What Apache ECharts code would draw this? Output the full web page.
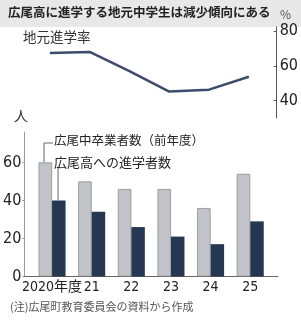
<!DOCTYPE html>
<html><head><meta charset="utf-8">
<script src="https://cdn.jsdelivr.net/npm/echarts@6/dist/echarts.min.js"></script>
<style>html,body{margin:0;padding:0;background:#fff}#c{width:301px;height:320px}</style>
</head><body><div id="c"></div>
<script>
const categories = ['2020年度', '21', '22', '23', '24', '25'];
const rate = [67.4, 68, 57, 45.2, 46.3, 53.7];
const graduates = [60, 50, 46, 46, 36, 54];
const enrolled = [40, 34, 26, 21, 17, 29];
const rateTicks = [40, 60, 80];
const countTicks = [0, 20, 40, 60];
const idx = categories.map((c, i) => i);

const CJK = "'Noto Sans CJK JP',sans-serif";
const NUM = "'Liberation Sans Narrow','DejaVu Sans Condensed','Noto Sans CJK JP',sans-serif";

const chart = echarts.init(document.getElementById('c'), null, {renderer: 'canvas'});
const option = {
  animation: false,
  grid: [
    {left: 22, width: 256, top: 27, height: 91},
    {left: 22, width: 256, top: 132, height: 144.5}
  ],
  xAxis: [
    {gridIndex: 0, type: 'value', min: -0.7, max: 5.7, show: false,
     axisLine: {show: false, onZero: false}, splitLine: {show: false}},
    {gridIndex: 1, type: 'value', min: -0.7, max: 5.7,
     splitLine: {show: false},
     axisLine: {show: true, onZero: false, lineStyle: {color: '#666', width: 1}},
     axisTick: {show: false},
     axisLabel: {customValues: idx, formatter: v => categories[v], margin: 4,
       color: '#222', fontSize: 14, fontFamily: NUM}}
  ],
  yAxis: [
    {gridIndex: 0, type: 'value', position: 'right', min: 30, max: 82.3,
     splitLine: {show: false},
     axisLine: {show: true, onZero: false, lineStyle: {color: '#555', width: 1}},
     axisTick: {show: true, inside: true, length: 3, customValues: rateTicks, lineStyle: {color: '#555'}},
     axisLabel: {customValues: rateTicks, margin: 3, color: '#222', fontSize: 16, fontFamily: NUM}},
    {gridIndex: 1, type: 'value', position: 'left', min: 0, max: 76,
     splitLine: {show: false},
     axisLine: {show: true, onZero: false, lineStyle: {color: '#999', width: 1}},
     axisTick: {show: true, length: 2, customValues: countTicks, lineStyle: {color: '#999'}},
     axisLabel: {customValues: countTicks, margin: 3, color: '#222', fontSize: 16, fontFamily: NUM}}
  ],
  series: [
    {type: 'line', xAxisIndex: 0, yAxisIndex: 0, data: idx.map(i => [i, rate[i]]),
     symbol: 'none', lineStyle: {color: '#3d4b6c', width: 2.5}},
    {type: 'bar', xAxisIndex: 1, yAxisIndex: 1, data: idx.map(i => [i, graduates[i]]),
     barWidth: 13.5, barGap: '0%',
     itemStyle: {color: '#c2c3c8', borderColor: '#8e8f94', borderWidth: 0.8}},
    {type: 'bar', xAxisIndex: 1, yAxisIndex: 1, data: idx.map(i => [i, enrolled[i]]),
     barWidth: 13.5, barGap: '0%',
     itemStyle: {color: '#263851'}}
  ]
};
chart.setOption(option);

const pG = chart.convertToPixel({xAxisIndex: 1, yAxisIndex: 1}, [0, graduates[0]]);
const pE = chart.convertToPixel({xAxisIndex: 1, yAxisIndex: 1}, [0, enrolled[0]]);
const gx = pG[0] - 8;   // inside gray bar
const ex = pG[0] + 6;   // inside dark bar
const t1y = 143, t2y = 165;

chart.setOption({
  graphic: [
    {type: 'rect', z: -1, shape: {x: 0, y: 0, width: 301, height: 27}, style: {fill: '#e8e8e8'}},
    {type: 'text', left: 8, top: 6, style: {text: '広尾高に進学する地元中学生は減少傾向にある',
      font: "bold 12.5px " + CJK, fill: '#222'}},
    {type: 'text', left: 280, top: 8, style: {text: '%', font: "12px " + CJK, fill: '#555'}},
    {type: 'text', left: 23, top: 30, style: {text: '地元進学率', font: "13.5px " + CJK, fill: '#333'}},
    {type: 'text', left: 14, top: 109, style: {text: '人', font: "14px " + CJK, fill: '#333'}},
    {type: 'polyline', shape: {points: [[gx, pG[1]], [gx, t1y], [53, t1y]]},
      style: {stroke: '#666', lineWidth: 1, fill: null}},
    {type: 'polyline', shape: {points: [[ex, pE[1]], [ex, t2y + 3]]},
      style: {stroke: '#666', lineWidth: 1, fill: null}},
    {type: 'text', left: 54, top: t1y - 9, style: {text: '広尾中卒業者数（前年度）', font: "12.5px " + CJK, fill: '#222'}},
    {type: 'text', left: 54, top: t2y - 9, style: {text: '広尾高への進学者数', font: "13px " + CJK, fill: '#222'}},
    {type: 'text', left: 10, top: 301, style: {text: '(注)広尾町教育委員会の資料から作成', font: "11px " + CJK, fill: '#555'}}
  ]
});
</script></body></html>
